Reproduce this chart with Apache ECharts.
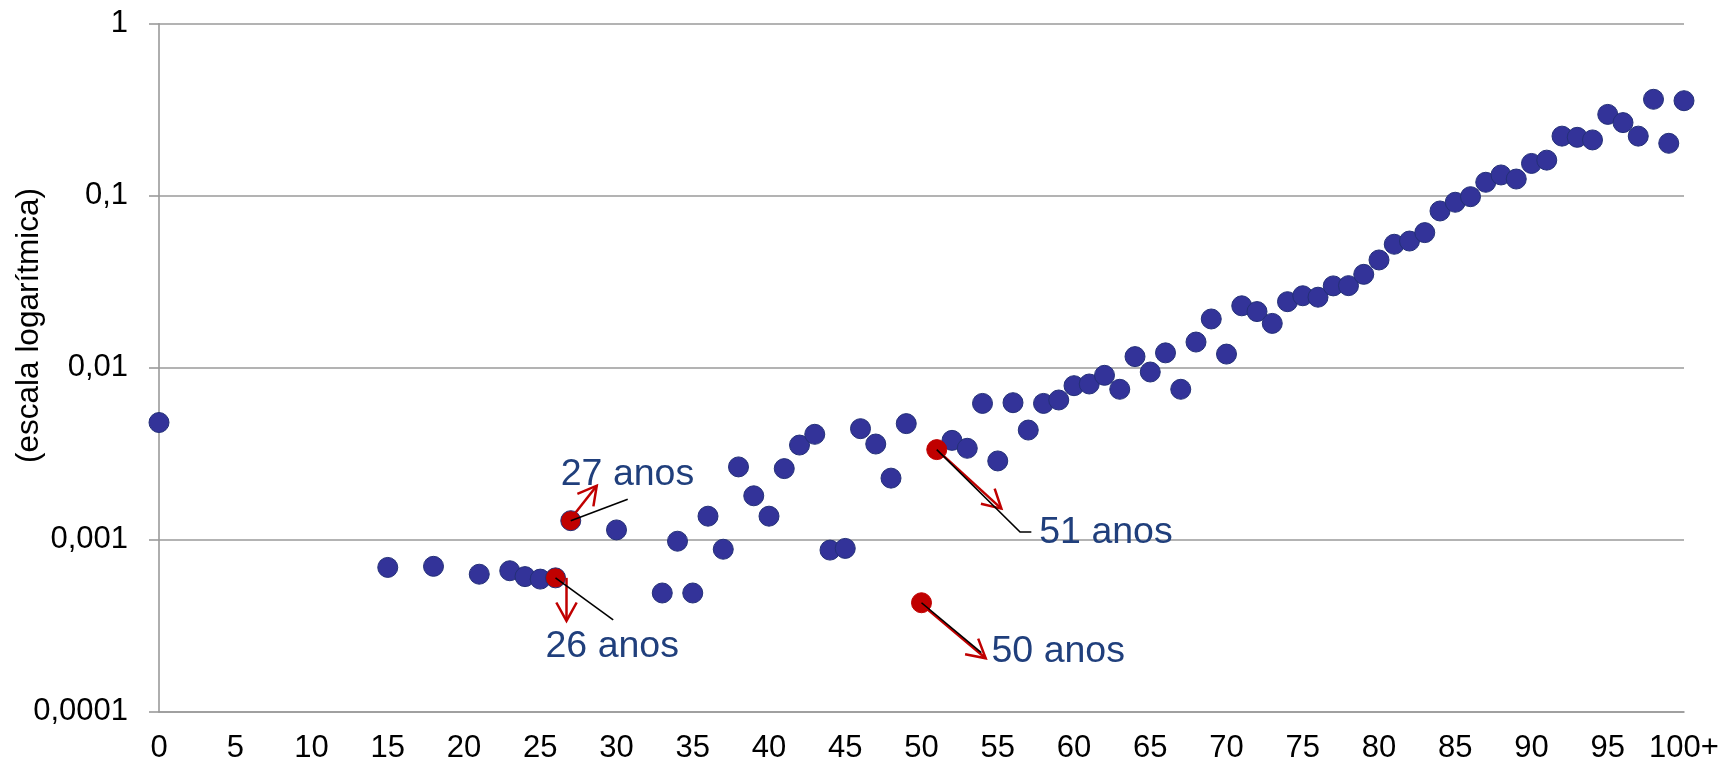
<!DOCTYPE html>
<html>
<head>
<meta charset="utf-8">
<script src="https://cdn.jsdelivr.net/npm/echarts@6/dist/echarts.min.js"></script>
<style>
  html, body { margin: 0; padding: 0; background: #ffffff; }
  #chart { width: 1736px; height: 764px; }
</style>
</head>
<body>
<div id="chart"></div>
<script>
// ---- Data ----
const ages = [0, 15, 18, 21, 23, 24, 25, 26, 27, 30, 33, 34, 35, 36, 37, 38, 39, 40,
  41, 42, 43, 44, 45, 46, 47, 48, 49, 50, 51, 52, 53, 54, 55, 56, 57, 58, 59, 60,
  61, 62, 63, 64, 65, 66, 67, 68, 69, 70, 71, 72, 73, 74, 75, 76, 77, 78, 79, 80,
  81, 82, 83, 84, 85, 86, 87, 88, 89, 90, 91, 92, 93, 94, 95, 96, 97, 98, 99, 100];
const rates = [0.0048, 0.00069, 0.0007, 0.00063, 0.00066, 0.00061, 0.00059, 0.0006, 0.00129, 0.00114,
  0.00049, 0.00098, 0.00049, 0.00137, 0.00088, 0.00265, 0.0018, 0.00137,
  0.00259, 0.00355, 0.0041, 0.00087, 0.00089, 0.00442, 0.0036, 0.00228, 0.00473, 0.00043, 0.00334,
  0.00378, 0.0034, 0.0062, 0.00287, 0.00626, 0.00434, 0.0062, 0.00649, 0.00786,
  0.00804, 0.00903, 0.00749, 0.0116, 0.00944, 0.0122, 0.00749, 0.0141, 0.0192, 0.012,
  0.0229, 0.0212, 0.0181, 0.0242, 0.0262, 0.0257, 0.0299, 0.03, 0.0349, 0.0423,
  0.0522, 0.0545, 0.061, 0.0815, 0.0916, 0.0987, 0.1197, 0.132, 0.125, 0.154,
  0.161, 0.222, 0.2185, 0.211, 0.297, 0.266, 0.222, 0.3635, 0.2017, 0.3567];
const highlightAges = [26, 27, 50, 51];
const annotationAges = [27, 26, 51, 50];
const annotationTexts = ['27 anos', '26 anos', '51 anos', '50 anos'];
const xTickLabels = ['0', '5', '10', '15', '20', '25', '30', '35', '40', '45', '50',
  '55', '60', '65', '70', '75', '80', '85', '90', '95', '100+'];
const yTickLabels = ['0,0001', '0,001', '0,01', '0,1', '1'];
const yAxisTitle = '(escala logarítmica)';

// ---- Styles ----
const FONT = '"Liberation Sans", Arial, sans-serif';
const NAVY = '#333399';
const NAVY_BORDER = '#243078';
const RED = '#C00000';
const GRID = '#9A9A9A';
const ANNOT = '#203F7C';

const blueData = [], redData = [];
ages.forEach((a, i) => {
  if (highlightAges.includes(a)) redData.push([a, rates[i]]);
  else blueData.push([a, rates[i]]);
});

const chart = echarts.init(document.getElementById('chart'), null, { renderer: 'canvas' });

const option = {
  backgroundColor: '#ffffff',
  animation: false,
  grid: { left: 159, right: 52, top: 23.7, bottom: 52.3, containLabel: false },
  xAxis: {
    type: 'value', min: 0, max: 100, interval: 5,
    axisLine: { show: true, onZero: false, lineStyle: { color: GRID, width: 1.6 } },
    axisTick: { show: false },
    splitLine: { show: false },
    axisLabel: {
      color: '#000', fontFamily: FONT, fontSize: 31, margin: 21,
      formatter: v => xTickLabels[Math.round(v / 5)]
    }
  },
  yAxis: {
    type: 'log', logBase: 10, min: 0.0001, max: 1,
    axisLine: { show: true, lineStyle: { color: GRID, width: 1.6 } },
    axisTick: { show: true, inside: false, length: 10, lineStyle: { color: GRID, width: 1.6 } },
    splitLine: { show: true, lineStyle: { color: GRID, width: 1.6 } },
    axisLabel: {
      color: '#000', fontFamily: FONT, fontSize: 31, margin: 31,
      formatter: v => yTickLabels[Math.round(Math.log10(v)) + 4]
    }
  },
  series: [
    {
      id: 'blue', type: 'scatter', data: blueData, symbol: 'circle', symbolSize: 20,
      itemStyle: { color: NAVY, borderColor: NAVY_BORDER, borderWidth: 1, opacity: 1 },
      z: 3
    },
    {
      id: 'red', type: 'scatter', symbol: 'circle', symbolSize: 20,
      data: redData.map(d => ({
        value: d,
        itemStyle: { borderColor: d[0] < 40 ? NAVY_BORDER : RED }
      })),
      itemStyle: { color: RED, opacity: 1, borderWidth: 1 },
      z: 4
    }
  ]
};

chart.setOption(option);

// ---- Annotations (arrows, leader lines, labels) ----
const deg = Math.PI / 180;
function arrow(x1, y1, x2, y2) {
  const dir = Math.atan2(y2 - y1, x2 - x1);
  const len = 21, ang = 29 * deg;
  const a1 = [x2 - len * Math.cos(dir - ang), y2 - len * Math.sin(dir - ang)];
  const a2 = [x2 - len * Math.cos(dir + ang), y2 - len * Math.sin(dir + ang)];
  return [
    { type: 'line', shape: { x1, y1, x2, y2 }, style: { stroke: RED, lineWidth: 2.5 }, z: 10 },
    { type: 'polyline', shape: { points: [a1, [x2, y2], a2] }, style: { stroke: RED, lineWidth: 2.5, fill: null }, z: 10 }
  ];
}
function leader(points) {
  return { type: 'polyline', shape: { points }, style: { stroke: '#000', lineWidth: 1.6, fill: null }, z: 11 };
}
function label(text, x, y) {
  return { type: 'text', x, y, style: { text, fill: ANNOT, font: '37.5px ' + FONT, textAlign: 'left', textVerticalAlign: 'middle' }, z: 9 };
}

// offsets relative to the highlighted point centre (annotation layout)
const annLayout = {
  27: { arrow: [0, -2, 26, -35], lead: [[0, 0], [57, -21.5]], text: [-10, -46.5] },
  26: { arrow: [11, 0, 11, 43], lead: [[0, 0], [57.7, 42]], text: [-10, 69] },
  51: { arrow: [0, 0, 64.6, 59], lead: [[0, 0], [83.3, 82.4], [94.6, 82.4]], text: [102.5, 83] },
  50: { arrow: [0, 1.5, 64.2, 55.5], lead: [[0, 0], [59.8, 49.8]], text: [70, 49] }
};

const graphics = [];
annotationAges.forEach((age, k) => {
  const idx = ages.indexOf(age);
  const p = chart.convertToPixel({ xAxisIndex: 0, yAxisIndex: 0 }, [age, rates[idx]]);
  const L = annLayout[age];
  graphics.push(...arrow(p[0] + L.arrow[0], p[1] + L.arrow[1], p[0] + L.arrow[2], p[1] + L.arrow[3]));
  graphics.push(leader(L.lead.map(o => [p[0] + o[0], p[1] + o[1]])));
  graphics.push(label(annotationTexts[k], p[0] + L.text[0], p[1] + L.text[1]));
});
graphics.push({
  type: 'text', x: 29, y: 325.5, rotation: Math.PI / 2,
  style: { text: yAxisTitle, fill: '#000', font: '31.5px ' + FONT, textAlign: 'center', textVerticalAlign: 'middle' }
});

chart.setOption({ graphic: graphics });
</script>
</body>
</html>
